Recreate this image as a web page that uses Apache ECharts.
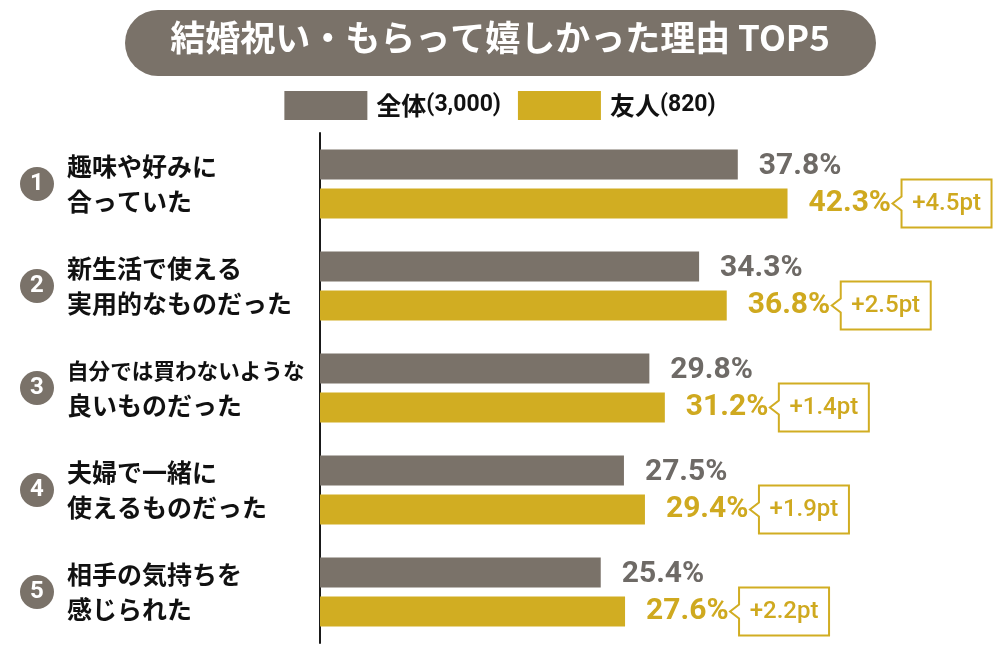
<!DOCTYPE html>
<html>
<head>
<meta charset="utf-8">
<script src="https://cdn.jsdelivr.net/npm/echarts@6/dist/echarts.min.js"></script>
<style>
html,body{margin:0;padding:0;background:#fff;}
#chart{width:1000px;height:653px;}
</style>
</head>
<body>
<div id="chart"></div>
<script>
const titleText = '結婚祝い・もらって嬉しかった理由 TOP5';
const legendNames = ['全体(3,000)', '友人(820)'];
const ranks = ['1', '2', '3', '4', '5'];
const categories = [
  '趣味や好みに\n合っていた',
  '新生活で使える\n実用的なものだった',
  '自分では買わないような\n良いものだった',
  '夫婦で一緒に\n使えるものだった',
  '相手の気持ちを\n感じられた'
];
const allRespondents = [37.8, 34.3, 29.8, 27.5, 25.4];
const friends = [42.3, 36.8, 31.2, 29.4, 27.6];
const diffs = [4.5, 2.5, 1.4, 1.9, 2.2];

const GRAY = '#7A7269';
const GRAY_TEXT = '#6E6A66';
const GOLD = '#D1AD22';
const GOLD_TEXT = '#CFA91F';
const JP = '"Noto Sans CJK JP", "Noto Sans", sans-serif';
const NUM = 'Roboto, "Noto Sans", sans-serif';

const BAR_W = 30;
const BAR_GAP = 9;
const LABEL_SPACE = 238;

const chart = echarts.init(document.getElementById('chart'), null, {renderer: 'canvas'});

// per-line font sizing so long lines fit left of the axis
const catRich = {};
function lineKey(l) {
  const size = Math.min(25, Math.floor(LABEL_SPACE / l.length * 10) / 10);
  const key = 'f' + Math.round(size * 10);
  if (!catRich[key]) {
    catRich[key] = {fontFamily: JP, fontWeight: 'bold', fontSize: size, lineHeight: 35, color: '#111'};
  }
  return key;
}
categories.forEach(function (c) { c.split('\n').forEach(lineKey); });
function catLabel(v) {
  return v.split('\n').map(function (l) { return '{' + lineKey(l) + '|' + l + '}'; }).join('\n');
}

const option = {
  backgroundColor: '#fff',
  animation: false,
  graphic: [
    {
      type: 'rect',
      left: 125, top: 10,
      shape: {width: 751, height: 66, r: 33},
      style: {fill: GRAY}
    },
    {
      type: 'text',
      left: 'center', top: 20,
      style: {
        text: titleText,
        fill: '#fff',
        font: 'bold 35px ' + JP
      }
    }
  ],
  legend: {
    data: legendNames,
    top: 86,
    left: 'center',
    icon: 'rect',
    itemWidth: 83,
    itemHeight: 29,
    itemGap: 17,
    selectedMode: false,
    textStyle: {
      padding: [0, 0, 0, 4],
      rich: {
        a: {fontFamily: JP, fontWeight: 'bold', fontSize: 25, color: '#111'},
        b: {fontFamily: NUM, fontWeight: 'bold', fontSize: 23, color: '#111'}
      }
    },
    formatter: function (name) {
      const m = name.match(/^(.*?)(\(.*\))$/);
      return '{a|' + m[1] + '}{b|' + m[2] + '}';
    }
  },
  grid: {left: 320, top: 133, width: 630, height: 510, containLabel: false},
  xAxis: {
    type: 'value', min: 0, max: 57, show: false
  },
  yAxis: [
    {
      type: 'category',
      data: categories,
      inverse: true,
      axisLine: {show: true, onZero: false, lineStyle: {color: '#1a1a1a', width: 2}},
      axisTick: {show: false},
      axisLabel: {
        align: 'left',
        margin: 253,
        formatter: catLabel,
        rich: catRich
      }
    },
    {
      type: 'category',
      data: ranks,
      inverse: true,
      position: 'left',
      axisLine: {show: false},
      axisTick: {show: false},
      axisLabel: {
        align: 'left',
        margin: 300,
        formatter: function (v) { return '{n|' + v + '}'; },
        rich: {
          n: {
            width: 34, height: 34, lineHeight: 34,
            borderRadius: 17,
            backgroundColor: GRAY,
            color: '#fff',
            align: 'center',
            fontFamily: NUM,
            fontWeight: 'bold',
            fontSize: 24
          }
        }
      }
    }
  ],
  series: [
    {
      name: legendNames[0],
      type: 'bar',
      data: allRespondents,
      barWidth: BAR_W,
      barGap: (BAR_GAP / BAR_W * 100) + '%',
      itemStyle: {color: GRAY},
      label: {
        show: true,
        position: 'right',
        distance: 21,
        offset: [0, 2],
        formatter: function (p) { return p.value.toFixed(1) + '%'; },
        color: GRAY_TEXT,
        fontFamily: NUM,
        fontWeight: 'bold',
        fontSize: 30
      }
    },
    {
      name: legendNames[1],
      type: 'bar',
      data: friends,
      barWidth: BAR_W,
      barGap: (BAR_GAP / BAR_W * 100) + '%',
      itemStyle: {color: GOLD},
      label: {
        show: true,
        position: 'right',
        distance: 21,
        formatter: function (p) { return p.value.toFixed(1) + '%'; },
        color: GOLD_TEXT,
        fontFamily: NUM,
        fontWeight: 'bold',
        fontSize: 30
      }
    },
    {
      type: 'custom',
      clip: false,
      silent: true,
      z: 5,
      encode: {x: 0, y: 1},
      data: friends.map(function (v, i) { return [v, i, diffs[i]]; }),
      renderItem: function (params, api) {
        const val = api.value(0);
        const idx = api.value(1);
        const diff = api.value(2);
        const pt = api.coord([val, idx]);
        const cy = pt[1] + (BAR_W + BAR_GAP) / 2;
        const tip = pt[0] + 105;
        const left = pt[0] + 114;
        const w = 90, h = 48;
        const top = cy - h / 2, bottom = cy + h / 2, right = left + w;
        return {
          type: 'group',
          children: [
            {
              type: 'polygon',
              shape: {
                points: [
                  [left, top], [right, top], [right, bottom], [left, bottom],
                  [left, cy + 7], [tip, cy], [left, cy - 7]
                ]
              },
              style: {fill: '#fff', stroke: GOLD, lineWidth: 2}
            },
            {
              type: 'text',
              x: left + w / 2,
              y: cy,
              style: {
                text: '+' + diff.toFixed(1) + 'pt',
                fill: GOLD_TEXT,
                font: '500 24px Roboto, sans-serif',
                textAlign: 'center',
                textVerticalAlign: 'middle'
              }
            }
          ]
        };
      }
    }
  ]
};

chart.setOption(option);
</script>
</body>
</html>
